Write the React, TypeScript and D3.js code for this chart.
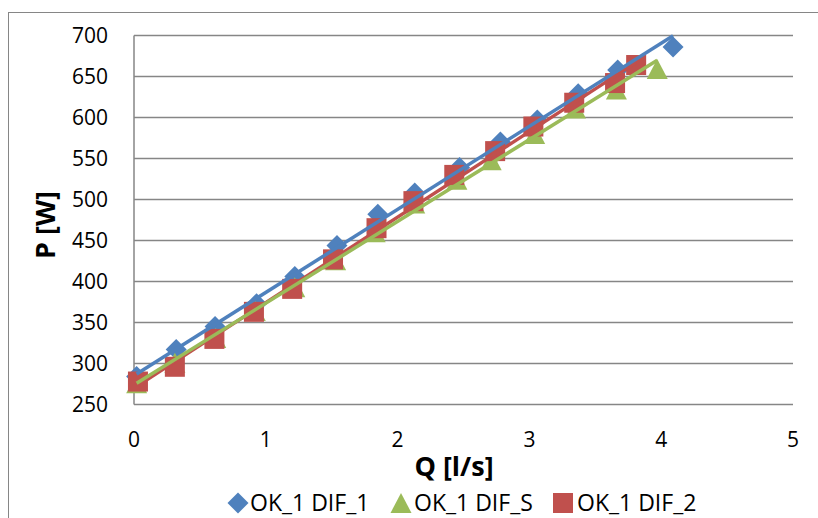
import React from 'react';
import * as d3 from 'd3';

const seriesNames = ['OK_1 DIF_1', 'OK_1 DIF_S', 'OK_1 DIF_2'];
const seriesColors = ['#4F81BD', '#9BBB59', '#C0504D'];

const q1 = [0.02, 0.32, 0.615, 0.93, 1.22, 1.54, 1.85, 2.13, 2.47, 2.78, 3.06, 3.37, 3.67, 4.09];
const p1 = [284, 317, 345, 373, 406, 444, 482, 508, 539, 570, 597, 629, 658, 686];

const qS = [0.02, 0.31, 0.62, 0.92, 1.22, 1.53, 1.83, 2.13, 2.45, 2.71, 3.04, 3.35, 3.66, 3.97];
const pS = [276, 301, 331, 364, 393, 426, 460, 495, 524, 548, 580, 611, 634, 659];

const q2 = [0.03, 0.31, 0.61, 0.91, 1.2, 1.51, 1.84, 2.12, 2.43, 2.74, 3.03, 3.34, 3.65, 3.81];
const p2 = [278, 296, 330, 363, 391, 427, 465, 498, 530, 559, 589, 618, 642, 664];

const xTicks = [0, 1, 2, 3, 4, 5];
const yTicks = [250, 300, 350, 400, 450, 500, 550, 600, 650, 700];

const W = 818;
const H = 518;
const plot = { left: 134, right: 793, top: 35.5, bottom: 404.5 };
const FONT = "'Open Sans', 'Liberation Sans', sans-serif";

function fit(qs: number[], ps: number[]) {
  const mx = d3.mean(qs) as number;
  const my = d3.mean(ps) as number;
  let sxy = 0, sxx = 0;
  qs.forEach((q, i) => { sxy += (q - mx) * (ps[i] - my); sxx += (q - mx) * (q - mx); });
  const b = sxy / sxx;
  const a = my - b * mx;
  const [x0, x1] = d3.extent(qs) as [number, number];
  return [[x0, a + b * x0], [x1, a + b * x1]] as [number, number][];
}

export default function App() {
  const x = d3.scaleLinear().domain([0, 5]).range([plot.left, plot.right]);
  const y = d3.scaleLinear().domain([250, 700]).range([plot.bottom, plot.top]);
  const line = d3.line<[number, number]>().x(d => x(d[0])).y(d => y(d[1]));

  const series = [
    { q: q1, p: p1, shape: 'diamond' },
    { q: qS, p: pS, shape: 'triangle' },
    { q: q2, p: p2, shape: 'square' },
  ];

  const marker = (shape: string, cx: number, cy: number, color: string, key: string) => {
    if (shape === 'diamond') {
      const r = 10.5;
      return <path key={key} d={`M${cx},${cy - r}L${cx + r},${cy}L${cx},${cy + r}L${cx - r},${cy}Z`} fill={color} />;
    }
    if (shape === 'triangle') {
      const w = 10.5, h = 10;
      return <path key={key} d={`M${cx},${cy - h}L${cx + w},${cy + h}L${cx - w},${cy + h}Z`} fill={color} />;
    }
    const s = 10;
    return <rect key={key} x={cx - s} y={cy - s} width={2 * s} height={2 * s} fill={color} />;
  };

  const lineOrder = [2, 1, 0];
  const legendItems = [
    { shape: 'diamond', mx: 238, tx: 250 },
    { shape: 'triangle', mx: 401, tx: 414 },
    { shape: 'square', mx: 563, tx: 577 },
  ];

  return (
    <svg width={W} height={H} style={{ position: 'absolute', left: 0, top: 0, background: '#fff' }}>
      <rect x={8.5} y={12.5} width={W} height={H} fill="#fff" stroke="#868686" strokeWidth={1} />
      {yTicks.map(t => (
        <g key={'y' + t}>
          <line x1={plot.left} x2={plot.right} y1={y(t)} y2={y(t)} stroke="#868686" strokeWidth={1.5} />
          <text x={108} y={y(t)} dy="0.35em" textAnchor="end" fontFamily={FONT} fontSize={21} fill="#000">{t}</text>
        </g>
      ))}
      <line x1={plot.left} x2={plot.left} y1={plot.top} y2={plot.bottom} stroke="#868686" strokeWidth={1.5} />
      {xTicks.map(t => (
        <text key={'x' + t} x={x(t)} y={440} dy="0.35em" textAnchor="middle" fontFamily={FONT} fontSize={21} fill="#000">{t}</text>
      ))}
      {series.map((s, si) => s.q.map((q, i) => marker(s.shape, x(q), y(s.p[i]), seriesColors[si], `m${si}-${i}`)))}
      {lineOrder.map(si => (
        <path key={'l' + si} d={line(fit(series[si].q, series[si].p)) || ''} fill="none" stroke={seriesColors[si]} strokeWidth={3.5} />
      ))}
      <text x={454} y={467} dy="0.35em" textAnchor="middle" fontFamily={FONT} fontSize={27} fontWeight="bold" fill="#000">Q [l/s]</text>
      <text transform={`translate(46,225) rotate(-90)`} dy="0.35em" textAnchor="middle" fontFamily={FONT} fontSize={27} fontWeight="bold" fill="#000">P [W]</text>
      {legendItems.map((it, i) => (
        <g key={'lg' + i}>
          {marker(it.shape, it.mx, 503, seriesColors[i], 'lgm' + i)}
          <text x={it.tx} y={503} dy="0.35em" fontFamily={FONT} fontSize={23} fill="#000">{seriesNames[i]}</text>
        </g>
      ))}
    </svg>
  );
}
